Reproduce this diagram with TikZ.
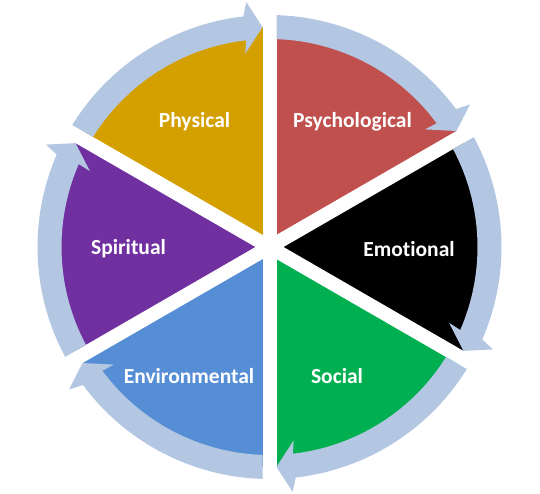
\documentclass[tikz,border=0pt]{standalone}
\usepackage{fontspec}
\setmainfont[Ligatures={NoCommon}]{Carlito}
\definecolor{cphys}{RGB}{212,160,0}
\definecolor{cpsy}{RGB}{192,80,77}
\definecolor{cemo}{RGB}{0,0,0}
\definecolor{csoc}{RGB}{0,176,80}
\definecolor{cenv}{RGB}{85,142,213}
\definecolor{cspi}{RGB}{112,48,160}
\definecolor{carr}{RGB}{180,199,226}
\newcommand{\sectorfill}[3]{%
  \fill[#1] (C) -- ++(#2:220) arc[start angle=#2, end angle=#3, radius=220] -- cycle;}
\newcommand{\ringarrow}[1]{%
  \fill[carr] ($(C)+(#1-1.73:232)$) arc[start angle=#1-1.73, end angle=#1-53.5, radius=232]
    -- ($(C)+(#1-54.6:246)$) -- ($(C)+(#1-58.18:220)$) -- ($(C)+(#1-52.9:195)$)
    -- ($(C)+(#1-53.5:208)$) arc[start angle=#1-53.5, end angle=#1-1.93, radius=208] -- cycle;}
\usetikzlibrary{calc}
\tikzset{lbl/.style={text=white,font=\bfseries\fontsize{21.5}{25}\selectfont,inner sep=0pt}}
\begin{document}
\begin{tikzpicture}[x=1pt,y=1pt]
\useasboundingbox (0,0) rectangle (540,-493);
\coordinate (C) at (269.5,-247);
\sectorfill{cphys}{90}{150}
\sectorfill{cpsy}{30}{90}
\sectorfill{cemo}{-30}{30}
\sectorfill{csoc}{-90}{-30}
\sectorfill{cenv}{210}{270}
\sectorfill{cspi}{150}{210}
\foreach \a in {90,30,150}{
  \draw[white,line width=14pt] ($(C)+(\a:224)$) -- ($(C)+(\a+180:224)$);
}
\foreach \g in {150,90,30,-30,-90,210}{\ringarrow{\g}}
\node[lbl] (phys) at (194.5,-122) {Physical};
\node[lbl] (psy) at (352.5,-122) {Psychological};
\node[lbl] (emo) at (409,-249) {Emotional};
\node[lbl] (soc) at (337,-376) {Social};
\node[lbl] (env) at (189,-376) {Environmental};
\node[lbl] (spi) at (128.5,-249) {Spiritual};
\end{tikzpicture}
\end{document}
